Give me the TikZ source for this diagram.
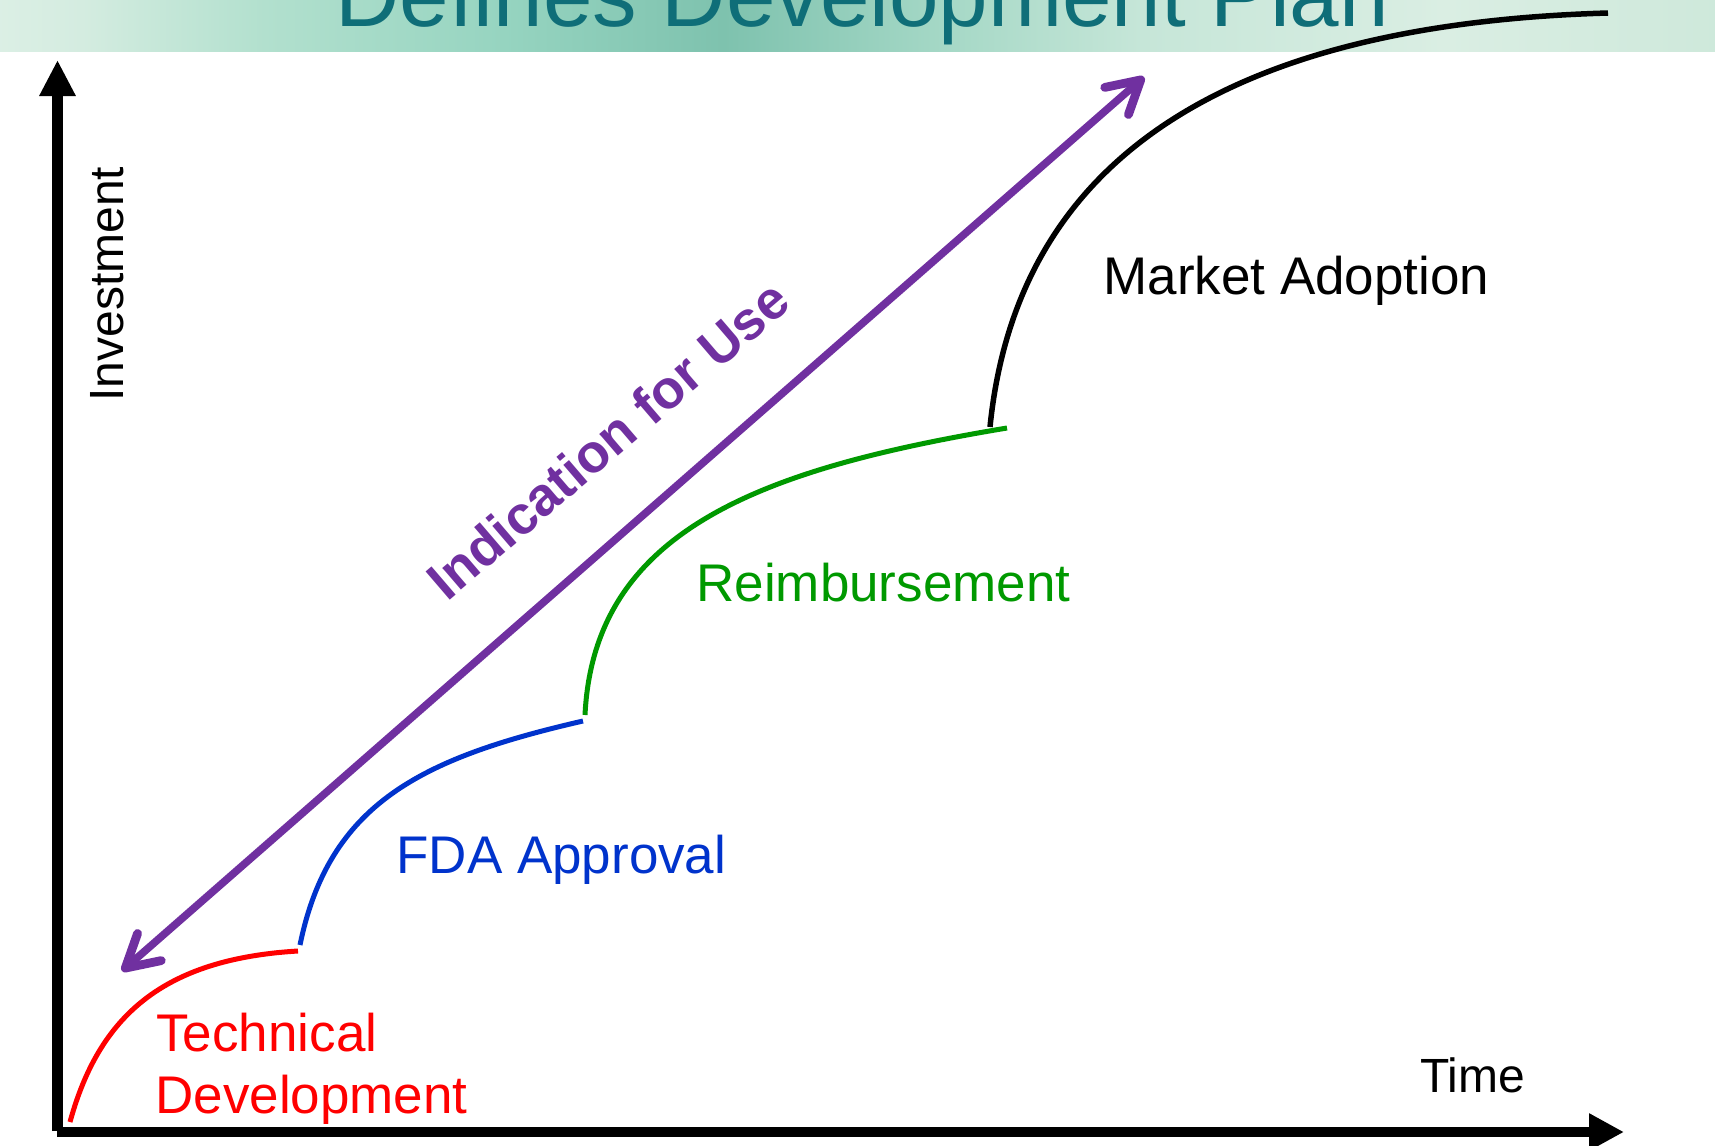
\documentclass[tikz,border=0pt]{standalone}
\usepackage{fontspec}
\setmainfont{Liberation Sans}
\usetikzlibrary{arrows.meta}

% banner colours, left to right
\definecolor{bA}{RGB}{105,165,145}
\definecolor{bB}{RGB}{128,188,168}
\definecolor{bC}{RGB}{148,210,190}
\definecolor{bD}{RGB}{180,225,208}
\definecolor{bE}{RGB}{226,242,233}
\definecolor{bF}{RGB}{212,236,224}
\definecolor{bG}{RGB}{178,224,206}
\definecolor{bH}{RGB}{150,212,192}
\definecolor{bI}{RGB}{126,194,174}
\definecolor{bJ}{RGB}{165,216,198}
\definecolor{bK}{RGB}{198,230,216}
\definecolor{bL}{RGB}{218,238,227}
\definecolor{bM}{RGB}{205,232,218}
\definecolor{bN}{RGB}{182,222,206}
\definecolor{bO}{RGB}{222,238,228}
\definecolor{bP}{RGB}{200,228,215}
\pgfdeclarehorizontalshading{bannershade}{100bp}{%
  color(0bp)=(bA); color(4.7bp)=(bB); color(9.9bp)=(bC); color(17.5bp)=(bD);
  color(22.7bp)=(bE); color(27.4bp)=(bF); color(32.7bp)=(bG); color(39.7bp)=(bH);
  color(46.1bp)=(bI); color(52.5bp)=(bJ); color(58.3bp)=(bK); color(67.1bp)=(bL);
  color(75.8bp)=(bM); color(84.5bp)=(bN); color(91bp)=(bO); color(100bp)=(bP)}

\definecolor{titleteal}{RGB}{15,110,120}
\definecolor{techred}{RGB}{255,0,0}
\definecolor{fdablue}{RGB}{0,51,204}
\definecolor{reimbgreen}{RGB}{0,153,0}
\definecolor{ifupurple}{RGB}{112,48,160}

\tikzset{
  axisline/.style={line width=#1, black},
  phase/.style={line width=2.5pt, line cap=butt},
  lbl/.style={inner sep=0pt, anchor=base west, font=\fontsize{26.5pt}{31pt}\selectfont},
  axlbl/.style={inner sep=0pt, anchor=base west, font=\fontsize{24pt}{28pt}\selectfont},
  ifutip/.tip={Straight Barb[length=16pt, width=18pt, line width=4.4pt, round]},
  ifuarrow/.style={line width=3.8pt, ifupurple, {ifutip}-{ifutip}},
}

\begin{document}
\begin{tikzpicture}[x=0.5pt, y=-0.5pt]
\useasboundingbox (0,0) rectangle (1715,1146);
\clip (0,0) rectangle (1715,1146);
\fill[white] (0,0) rectangle (1715,1146);

% title band
\shade[shading=bannershade] (0,0) rectangle (1715,51);
\node[inner sep=0pt, anchor=base west, text=titleteal,
      font=\fontsize{44.5pt}{50pt}\selectfont] (title) at (335,26) {Defines Development Plan};

% axes
\coordinate (ybot) at (57.5,1131);
\coordinate (ytop) at (57.5,60);
\coordinate (xleft) at (57,1132);
\coordinate (xright) at (1624,1132);
\draw[axisline=5.8pt, -{Triangle[length=18pt, width=17pt]}] (ybot) -- (ytop);
\draw[axisline=5.3pt, -{Triangle[length=17.5pt, width=17.5pt]}] (xleft) -- (xright);

\node[axlbl, rotate=90] (invest) at (123,402) {Investment};
\node[axlbl] (time) at (1420,1092) {Time};

% phase curves, each one rising and levelling off
\coordinate (techS) at (70,1122);   \coordinate (techE) at (298,951);
\coordinate (fdaS) at (300,945);    \coordinate (fdaE) at (583,721);
\coordinate (reimbS) at (585,715);  \coordinate (reimbE) at (1007,428);
\coordinate (mktS) at (990,427);    \coordinate (mktE) at (1608,13);

\draw[phase, techred] (techS) .. controls (99,1016) and (163,959) .. (techE);
\draw[phase, fdablue] (fdaS) .. controls (329,803) and (422,758) .. (fdaE);
\draw[phase, reimbgreen] (reimbS) .. controls (594,530) and (761,469) .. (reimbE);
\draw[phase, black, line width=2.75pt] (mktS) .. controls (1017,158) and (1228,24) .. (mktE);

% phase labels
\node[lbl, text=techred] (tech1) at (156,1051) {Technical};
\node[lbl, text=techred] (tech2) at (155,1113) {Development};
\node[lbl, text=fdablue] (fda) at (396,873) {FDA Approval};
\node[lbl, text=reimbgreen] (reimb) at (696,601) {Reimbursement};
\node[lbl, text=black] (market) at (1103,294) {Market Adoption};

% indication for use
\coordinate (ifuA) at (122,971);
\coordinate (ifuB) at (1144,77);
\draw[ifuarrow] (ifuA) -- (ifuB);
\node[inner sep=0pt, anchor=base west, rotate=40.6, text=ifupurple,
      font=\fontsize{27pt}{31pt}\selectfont\bfseries] (ifu) at (447,603) {Indication for Use};
\end{tikzpicture}
\end{document}
